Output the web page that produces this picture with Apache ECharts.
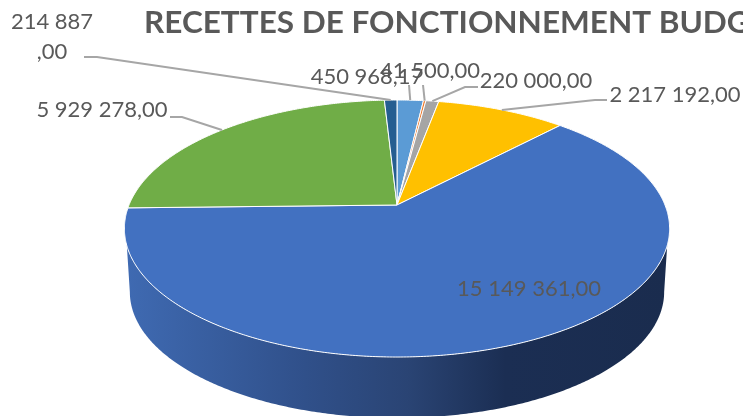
<!DOCTYPE html>
<html>
<head>
<meta charset="utf-8">
<style>html,body{margin:0;background:#fff}#main{width:743px;height:416px}</style>
<script src="https://cdn.jsdelivr.net/npm/echarts@6/dist/echarts.min.js"></script>
</head>
<body>
<div id="main"></div>
<script>
var titleText = 'RECETTES DE FONCTIONNEMENT BUDGET';
var sliceValues = [450968.17, 41500, 220000, 2217192, 15149361, 5929278, 214887];
var sliceColors = ['#5b9bd5', '#ed7d31', '#a5a5a5', '#ffc000', '#4271c1', '#70ad47', '#255e91'];
// label box centre and leader elbow for each slice (null = no leader)
var labelSpots = [[367, 77], [430, 71], [536, 81], [675, 95], [529, 289], [102, 110], [52, 37]];
var leaderElbows = [[409, 85], [423, 85], [465, 87], [595, 100], null, [182, 117], [97, 57]];
var leaderEnds = [[409, 85], [423, 85], [478, 87], [607, 100], null, [170, 117], [84, 57]];

// the pie is a tilted disc: perspective map of the unit circle
var cx = 397, cy = 205, rx = 268, ry = 124.2, tilt = 0.183;
var wallDrop = 64, wallScale = 0.98;
var total = sliceValues.reduce(function (a, b) { return a + b; }, 0);

function project(deg, drop, scale) {
    var a = deg * Math.PI / 180;
    var u = Math.sin(a), v = -Math.cos(a), w = 1 - tilt * v;
    return [cx + scale * rx * u / w, cy + drop + scale * ry * v / w];
}
function arc(from, to, drop, scale) {
    var pts = [], n = Math.max(2, Math.ceil(Math.abs(to - from) * 2));
    for (var i = 0; i <= n; i++) pts.push(project(from + (to - from) * i / n, drop, scale));
    return pts;
}
function sliceStart(index) {
    var sum = 0;
    for (var i = 0; i < index; i++) sum += sliceValues[i];
    return sum / total * 360;
}
function formatValue(v) {
    var parts = v.toFixed(2).split('.');
    return parts[0].replace(/\B(?=(\d{3})+$)/g, ' ') + ',' + parts[1];
}

function renderSlice(params, api) {
    var i = params.dataIndex;
    var start = sliceStart(i), end = start + api.value(0) / total * 360;
    var children = [];
    var wallFrom = Math.max(start, 108), wallTo = Math.min(end, 252);
    if (wallFrom < wallTo) {
        // side wall, only on the part of the rim facing the viewer
        var wall = arc(wallFrom, wallTo, 0, 1).concat(arc(Math.min(end, 259.5), Math.max(start, 100.5), wallDrop, wallScale));
        children.push({
            type: 'polygon',
            shape: { points: wall },
            style: {
                fill: new echarts.graphic.LinearGradient(126, 0, 668, 0, [
                    { offset: 0, color: '#3f6ab2' },
                    { offset: 0.33, color: '#30508a' },
                    { offset: 0.52, color: '#2a4474' },
                    { offset: 0.7, color: '#1b2e53' },
                    { offset: 1, color: '#1a2c4e' }
                ], true)
            }
        });
    }
    children.push({
        type: 'polygon',
        shape: { points: [project(0, 0, 0)].concat(arc(start, end, 0, 1)) },
        style: { fill: api.visual('color'), stroke: '#fff', lineWidth: 1, lineJoin: 'round' }
    });
    return { type: 'group', children: children };
}

function renderLabel(params, api) {
    var i = params.dataIndex;
    var value = api.value(0);
    var mid = sliceStart(i) + value / total * 180;
    var text = formatValue(value);
    if (i === 6) text = text.replace(',', '\n,');
    var children = [];
    if (leaderElbows[i]) {
        children.push({
            type: 'polyline',
            shape: { points: [project(mid, 0, 1), leaderElbows[i], leaderEnds[i]] },
            style: { fill: null, stroke: '#a6a6a6', lineWidth: 2 }
        });
    }
    children.push({
        type: 'text',
        x: labelSpots[i][0],
        y: labelSpots[i][1],
        style: {
            text: text,
            fill: '#595959',
            font: '22px Lato',
            align: 'center',
            verticalAlign: 'middle',
            lineHeight: 30
        }
    });
    return { type: 'group', children: children };
}

var myChart = echarts.init(document.getElementById('main'), null, { renderer: 'canvas' });
var option = {
    animation: false,
    backgroundColor: '#fff',
    color: sliceColors,
    // the original title is letter-spaced, so stretch it a little
    graphic: [{
        type: 'text',
        x: 144,
        y: 23,
        scaleX: 1.068,
        silent: true,
        style: {
            text: titleText,
            fill: '#595959',
            font: 'bold 29.5px Lato',
            verticalAlign: 'middle'
        }
    }],
    series: [
        {
            type: 'custom',
            coordinateSystem: 'none',
            colorBy: 'data',
            silent: true,
            renderItem: renderSlice,
            data: sliceValues.map(function (v, i) { return { value: [v], itemStyle: { color: sliceColors[i] } }; })
        },
        {
            type: 'custom',
            coordinateSystem: 'none',
            silent: true,
            z: 5,
            renderItem: renderLabel,
            data: sliceValues.map(function (v) { return [v]; })
        }
    ]
};
myChart.setOption(option);
</script>
</body>
</html>
